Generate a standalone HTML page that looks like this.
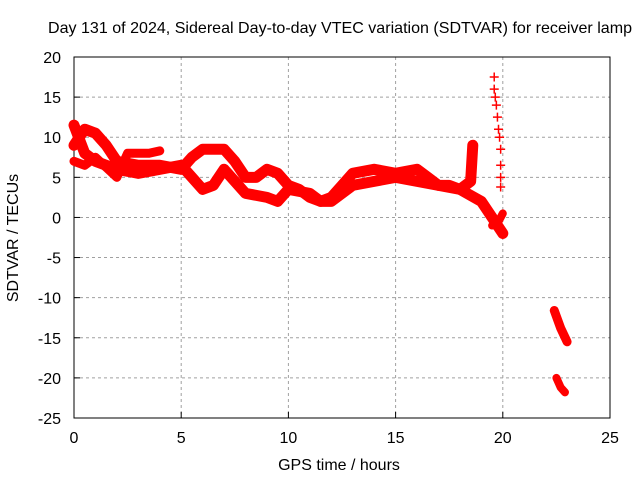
<!DOCTYPE html>
<html><head><meta charset="utf-8"><style>
body{margin:0;background:#fff}
svg text{font-family:"Liberation Sans",sans-serif;font-size:16px;fill:#000}
</style></head><body>
<svg id="chart" width="640" height="480">
<text x="48" y="33" textLength="584" lengthAdjust="spacingAndGlyphs">Day 131 of 2024, Sidereal Day-to-day VTEC variation (SDTVAR) for receiver lamp</text>
<text x="339" y="470" text-anchor="middle">GPS time / hours</text>
<text transform="translate(18,238) rotate(-90)" text-anchor="middle">SDTVAR / TECUs</text>
<g id="grid"></g><g id="axes"></g><g id="marks"></g>
</svg>
<script>
const xTicks=[0,5,10,15,20,25];
const yTicks=[20,15,10,5,0,-5,-10,-15,-20,-25];
const trackUpperX=[0,0.5,1,1.5,2,3,4,5,5.5,6,6.5,7,7.5,8,8.5,9,9.5,10,10.5,11,11.5,12,12.5,13,14,15,16,16.5,17,17.5,18,18.5,18.6];
const trackUpperY=[9,11,10.5,9,7,6.5,6.5,6,7.5,8.5,8.5,8.5,7,5,5,6,5.5,4,3.5,2.5,2,2.5,4,5.5,6,5.5,6,5,4,4,3.5,4.5,9];
const trackLowerX=[0,0.5,1,1.5,2,3,4,5,5.5,6,6.5,7,7.5,8,9,9.5,10,11,11.5,12,12.5,13,14,15,16,17,18,19,19.5,20];
const trackLowerY=[11.5,8,7,6.5,6,5.5,6,6.5,5,3.5,4,6,4.5,3,2.5,2,3.5,3,2,2,3,4,4.5,5,4.5,4,3.5,2,0,-2];
const trackThirdX=[0,0.5,1,2,2.5,3.5,4];
const trackThirdY=[7,6.5,7.5,5,8,8,8.3];
const trackEndX=[19.5,19.8,20];
const trackEndY=[-1,-0.5,0.5];
const spikeX=[19.6,19.6,19.65,19.7,19.75,19.8,19.85,19.9,19.9,19.9,19.9];
const spikeY=[17.5,16,15,14,12.5,11,10,8.5,6.5,5,3.8];
const lateAX=[22.4,22.7,23.0];
const lateAY=[-11.6,-13.8,-15.5];
const lateBX=[22.5,22.7,22.9];
const lateBY=[-20,-21.2,-21.8];
const L=74,R=610,T=57,B=418;
const sx=v=>L+(v-0)/25*(R-L);
const sy=v=>T+(20-v)/45*(B-T);
const NS='http://www.w3.org/2000/svg';
function mk(tag,attrs,parent){const e=document.createElementNS(NS,tag);for(const k in attrs)e.setAttribute(k,attrs[k]);document.getElementById(parent).appendChild(e);return e;}
xTicks.forEach(t=>{
 if(t>0&&t<25){const g=mk('line',{x1:sx(t),x2:sx(t),y1:T,y2:B,stroke:'#a0a0a0','stroke-dasharray':'3,3'},'grid');
 
 }
 const tk=mk('line',{x1:sx(t),x2:sx(t),y1:B,y2:B-6,stroke:'#000'},'axes');
 
 
 const tx=mk('text',{x:sx(t),y:B+25,'text-anchor':'middle'},'axes');tx.textContent=t;
 
 
});
yTicks.forEach(t=>{
 if(t<20&&t>-25){const g=mk('line',{x1:L,x2:R,y1:sy(t),y2:sy(t),stroke:'#a0a0a0','stroke-dasharray':'3,3'},'grid');
 
 }
 const tk=mk('line',{x1:L,x2:L+6,y1:sy(t),y2:sy(t),stroke:'#000'},'axes');
 
 
 const tx=mk('text',{x:L-13,y:sy(t)+6,'text-anchor':'end'},'axes');tx.textContent=t;
 
 
});
const fr=mk('rect',{x:L,y:T,width:R-L,height:B-T,fill:'none',stroke:'#000'},'axes');


function track(xs,ys,name,w){
 const p=mk('polyline',{points:xs.map((x,i)=>sx(x)+','+sy(ys[i])).join(' '),fill:'none',stroke:'#f00','stroke-width':w,'stroke-linejoin':'round','stroke-linecap':'round'},'marks');
 
 
}
track(trackUpperX,trackUpperY,'track-upper',11);
track(trackLowerX,trackLowerY,'track-lower',11);
track(trackThirdX,trackThirdY,'track-third',9);
track(trackEndX,trackEndY,'track-end',8);
track(lateAX,lateAY,'late-segment-a',9);
track(lateBX,lateBY,'late-segment-b',8);
spikeX.forEach((x,i)=>{
 const p=mk('path',{d:`M${sx(x)-4.5},${sy(spikeY[i])}h9M${sx(x)},${sy(spikeY[i])-4.5}v9`,stroke:'#f00','stroke-width':1.5},'marks');
 
 
});
</script>
</body></html>
